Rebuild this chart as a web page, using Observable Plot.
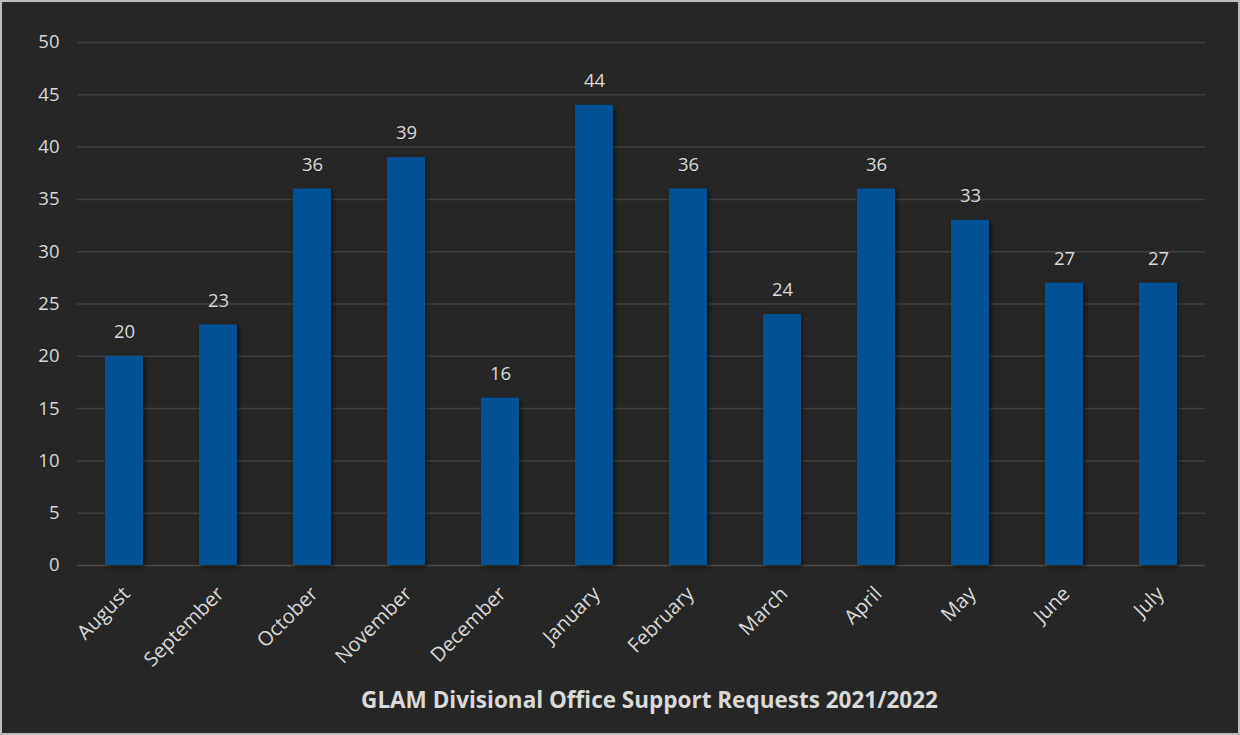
<!DOCTYPE html>
<html>
<head>
<meta charset="utf-8">
<script src="https://cdn.jsdelivr.net/npm/d3@7"></script>
<script src="https://cdn.jsdelivr.net/npm/@observablehq/plot@0.6"></script>
<style>
  html, body { margin: 0; padding: 0; background: #262626; }
  #frame {
    position: relative;
    width: 1240px;
    height: 735px;
    box-sizing: border-box;
    border: 2px solid #bdbdbd;
    background: #262626;
    overflow: hidden;
  }
  #chart { position: absolute; left: 0; top: 0; }
  .bars { filter: drop-shadow(2px 2px 2px rgba(0,0,0,0.55)); }
</style>
</head>
<body>
<div id="frame">
  <div id="chart"></div>
</div>
<script>
// Monthly support request counts, August 2021 through July 2022
const months = ["August", "September", "October", "November", "December", "January",
                "February", "March", "April", "May", "June", "July"];
const requests = [20, 23, 36, 39, 16, 44, 36, 24, 36, 33, 27, 27];
const yTicks = [0, 5, 10, 15, 20, 25, 30, 35, 40, 45, 50];
const chartTitle = "GLAM Divisional Office Support Requests 2021/2022";

const data = months.map((m, i) => ({month: m, value: requests[i]}));

const textColor = "#d9d9d9";

const chart = Plot.plot({
  width: 1236,
  height: 731,
  marginLeft: 75,
  marginRight: 33,
  marginTop: 40,
  marginBottom: 168,
  style: {background: "transparent", color: textColor, fontFamily: "'Open Sans', sans-serif"},
  x: {domain: months, paddingInner: 0.6, paddingOuter: 0.3, label: null},
  y: {domain: [0, 50], label: null},
  marks: [
    Plot.ruleY(yTicks.filter(d => d > 0), {stroke: "#404040", strokeWidth: 1.5}),
    Plot.ruleY([0], {stroke: "#4a4a4a", strokeWidth: 1.5}),
    Plot.barY(data, {x: "month", y: "value", fill: "#005294", className: "bars"}),
    Plot.text(data, {x: "month", y: "value", text: d => String(d.value), dy: -24,
                     fill: textColor, fontSize: 18.5}),
    Plot.axisY(yTicks, {tickSize: 0, tickPadding: 18, fontSize: 18.5, fill: textColor, label: null}),
    Plot.axisX({tickSize: 0, tickPadding: 25, dx: 2, tickRotate: -45, fontSize: 20,
                fill: textColor, label: null}),
    // chart title under the axis labels
    Plot.text([chartTitle], {frameAnchor: "bottom", dx: 8, dy: 142, fontSize: 22.5,
                             fontWeight: "bold", fill: textColor})
  ]
});

document.getElementById("chart").appendChild(chart);
</script>
</body>
</html>
